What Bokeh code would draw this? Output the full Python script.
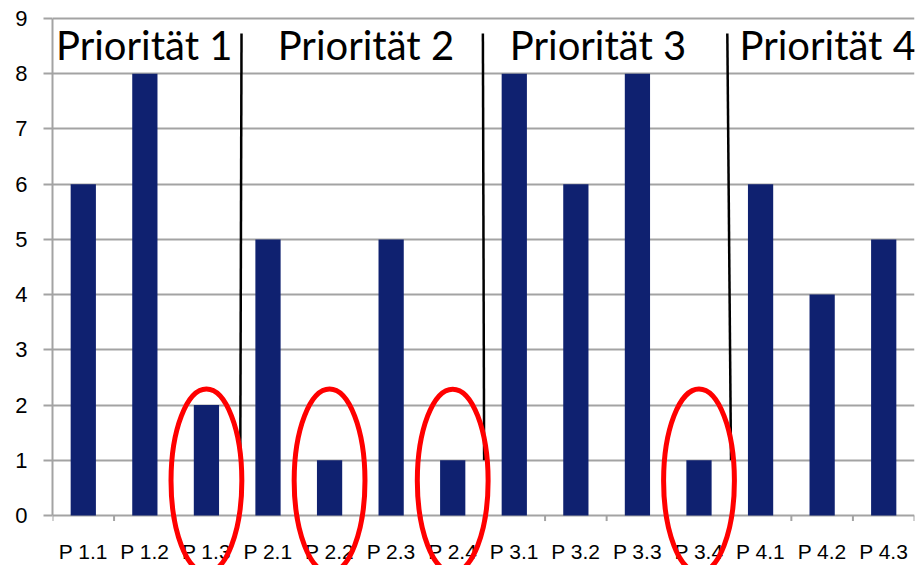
import numpy as np
from bokeh.plotting import figure
from bokeh.models import FixedTicker, ColumnDataSource
from bokeh.core.properties import value
from bokeh.embed import file_html
from bokeh.resources import INLINE

# ---- data ----
categories = ["P 1.1", "P 1.2", "P 1.3", "P 2.1", "P 2.2", "P 2.3", "P 2.4",
              "P 3.1", "P 3.2", "P 3.3", "P 3.4", "P 4.1", "P 4.2", "P 4.3"]
values = [6, 8, 2, 5, 1, 5, 1, 8, 6, 8, 1, 6, 4, 5]
group_labels = ["Priorität 1", "Priorität 2", "Priorität 3", "Priorität 4"]
group_sizes = [3, 4, 4, 3]
highlighted = ["P 1.3", "P 2.2", "P 2.4", "P 3.4"]
y_ticks = list(range(0, 10))

n = len(categories)
xpos = np.arange(n) + 0.5
bounds = np.cumsum(group_sizes)  # 3, 7, 11, 14

GRID = "#A3A3A3"
BAR = "#0F2170"

p = figure(width=917, height=565, output_backend="svg", toolbar_location=None,
           x_range=(0, 14), y_range=(-0.905, 9.326),
           x_axis_location=None, min_border_left=52, min_border_right=3,
           min_border_top=0, min_border_bottom=0)
p.outline_line_color = None
p.background_fill_color = "white"
p.xgrid.visible = False

# y axis
p.yaxis.ticker = FixedTicker(ticks=y_ticks)
p.yaxis.bounds = (0, 9)
p.yaxis.axis_line_color = GRID
p.yaxis.axis_line_width = 2
p.yaxis.major_tick_line_color = GRID
p.yaxis.major_tick_line_width = 2
p.yaxis.major_tick_out = 9
p.yaxis.major_tick_in = 0
p.yaxis.minor_tick_line_color = None
p.yaxis.major_label_standoff = 16
p.yaxis.major_label_text_font = "Liberation Sans"
p.yaxis.major_label_text_font_size = "22px"
p.yaxis.major_label_text_color = "black"
p.ygrid.ticker = FixedTicker(ticks=y_ticks)
p.ygrid.grid_line_color = GRID
p.ygrid.grid_line_width = 2

# bars
src = ColumnDataSource(dict(x=xpos, top=values, cat=categories))
p.vbar(x="x", top="top", width=0.41, source=src, fill_color=BAR, line_color=None)

# x tick marks at category boundaries
edges = np.arange(n + 1)
p.segment(x0=edges, y0=np.zeros(n + 1), x1=edges, y1=np.full(n + 1, -0.1),
          line_color=GRID, line_width=2)

# x category labels
p.text(x=xpos, y=np.full(n, -0.645), text=categories, text_align="center",
       text_baseline="middle", text_font=value("Liberation Sans"),
       text_font_size="21px", text_color="black")

# group separators
sep = bounds[:-1].astype(float)
p.segment(x0=sep + np.array([0.07, -0.01, -0.04]), y0=np.full(len(sep), 8.73),
          x1=sep + np.array([0.05, 0.01, 0.02]), y1=np.full(len(sep), 1.0),
          line_color="black", line_width=2.5)

# group labels
label_x = [1.49, 5.09, 8.86, 12.59]
p.text(x=label_x, y=[8.52] * 4, text=group_labels, text_align="center",
       text_baseline="alphabetic", text_font=value("Lato"),
       text_font_size="40px", text_color="black")

# red ellipses around highlighted bars
hx = [xpos[categories.index(c)] for c in highlighted]
p.ellipse(x=hx, y=[0.63] * len(hx), width=1.15, height=3.32,
          fill_color=None, line_color="#FF0000", line_width=5)

open("out.html", "w").write(file_html(p, INLINE))
